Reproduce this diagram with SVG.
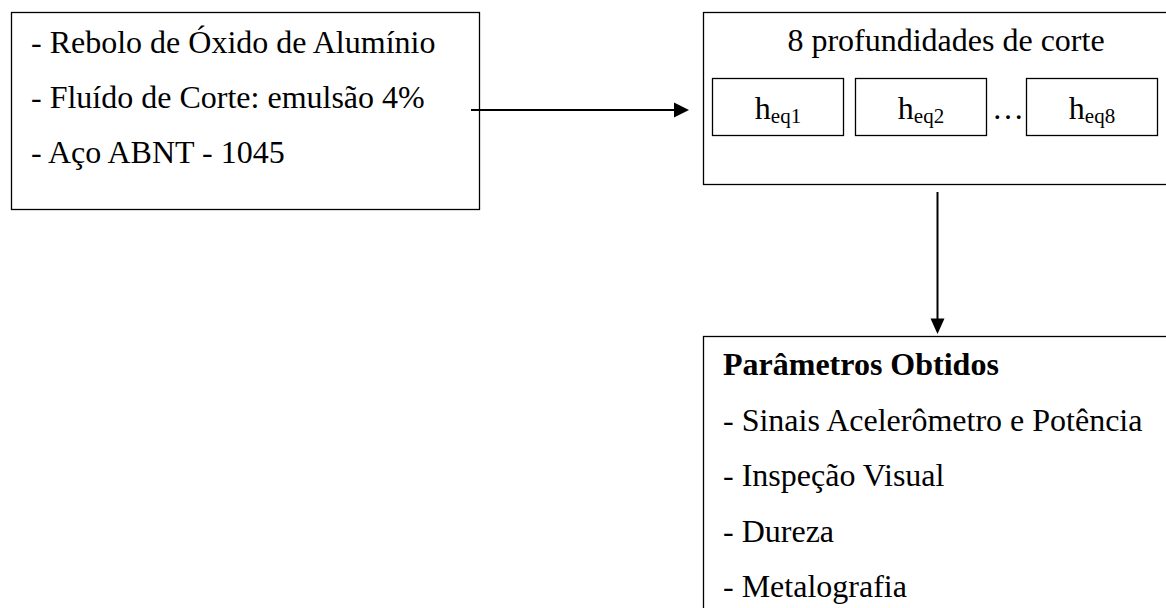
<svg xmlns="http://www.w3.org/2000/svg" width="1166" height="608" viewBox="0 0 1166 608">
<defs>
<style>
.box{fill:#fff;stroke:#000;stroke-width:1.3}
.t{font-family:"Liberation Serif","Times New Roman",serif;font-size:32px;fill:#000}
.b{font-weight:bold}
.sub{font-size:21px}
.c{text-anchor:middle}
.conn{stroke:#000;stroke-width:2;fill:none}
.head{fill:#000}
</style>
</defs>
<rect width="1166" height="608" fill="#fff"/>
<g id="inputs">
<rect class="box" x="11.5" y="12.5" width="468" height="197"/>
<text class="t" x="31" y="53">- Rebolo de Óxido de Alumínio</text>
<text class="t" x="31" y="108">- Fluído de Corte: emulsão 4%</text>
<text class="t" x="31" y="163">- Aço ABNT - 1045</text>
</g>
<g id="profundidades">
<rect class="box" x="703.5" y="12.5" width="470" height="172"/>
<text class="t c" x="946" y="51">8 profundidades de corte</text>
<g id="heq1">
<rect class="box" x="712.5" y="78.5" width="131" height="57"/>
<text class="t c" x="778" y="119">h<tspan class="sub" dy="4">eq1</tspan></text>
</g>
<g id="heq2">
<rect class="box" x="855.5" y="78.5" width="131" height="57"/>
<text class="t c" x="921" y="119">h<tspan class="sub" dy="4">eq2</tspan></text>
</g>
<text class="t" x="992" y="119">…</text>
<g id="heq8">
<rect class="box" x="1026.5" y="78.5" width="131" height="57"/>
<text class="t c" x="1092" y="119">h<tspan class="sub" dy="4">eq8</tspan></text>
</g>
</g>
<g id="resultados">
<rect class="box" x="703.5" y="336.5" width="470" height="290"/>
<text class="t b" x="723" y="375">Parâmetros Obtidos</text>
<text class="t" x="723" y="431">- Sinais Acelerômetro e Potência</text>
<text class="t" x="723" y="486">- Inspeção Visual</text>
<text class="t" x="723" y="542">- Dureza</text>
<text class="t" x="723" y="597">- Metalografia</text>
</g>
<g id="connectors">
<line class="conn" x1="471" y1="110" x2="676" y2="110"/>
<polygon class="head" points="674,102.5 689,110 674,117.5"/>
<line class="conn" x1="937.5" y1="192" x2="937.5" y2="320"/>
<polygon class="head" points="930.5,318.5 944.5,318.5 937.5,334"/>
</g>
</svg>
